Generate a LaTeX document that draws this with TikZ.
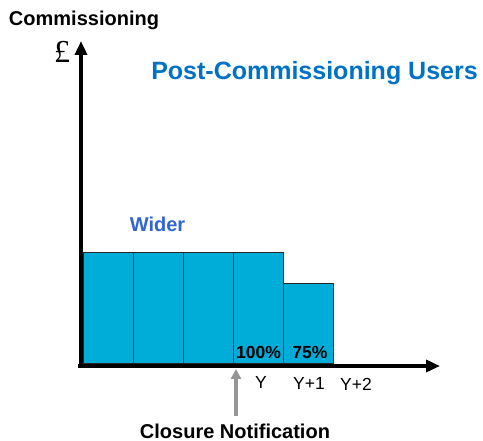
\documentclass[tikz,border=0pt]{standalone}
\usepackage{fontspec}
\setmainfont{Liberation Sans}
\newfontfamily\serifpound{Liberation Serif}
\usetikzlibrary{arrows.meta}
\definecolor{barcyan}{RGB}{0,172,216}
\definecolor{titleblue}{RGB}{0,114,198}
\definecolor{widerblue}{RGB}{50,100,210}
\definecolor{notegray}{RGB}{150,150,150}
\begin{document}
\begin{tikzpicture}[x=1pt,y=-1pt,
  barbox/.style={draw=black!85,line width=0.8pt,fill=barcyan},
  axisline/.style={line width=3.5pt,-{Triangle[length=14pt,width=12pt]}},
  ticklbl/.style={font=\fontsize{17.5}{17.5}\selectfont,anchor=center},
  pctlbl/.style={font=\bfseries\fontsize{17.5}{17.5}\selectfont,anchor=center}]
\useasboundingbox (0,0) rectangle (483,441);
% bars
\node[barbox,minimum width=50pt,minimum height=111pt,inner sep=0pt,anchor=south west] (b1) at (83,364) {};
\node[barbox,minimum width=50pt,minimum height=111pt,inner sep=0pt,anchor=south west] (b2) at (133,364) {};
\node[barbox,minimum width=50pt,minimum height=111pt,inner sep=0pt,anchor=south west] (b3) at (183,364) {};
\node[barbox,minimum width=50pt,minimum height=111pt,inner sep=0pt,anchor=south west] (b4) at (233,364) {};
\node[barbox,minimum width=50pt,minimum height=80pt,inner sep=0pt,anchor=south west] (b5) at (283,364) {};
% axes
\coordinate (ytip) at (81,41);
\coordinate (xtip) at (440,366);
\draw[axisline] (78,366) -- (xtip);
\draw[axisline] (81,368) -- (ytip);
% labels
\node[font=\bfseries\fontsize{20}{20}\selectfont,anchor=center] (comm) at (84,20) {Commissioning};
\node[font=\serifpound\fontsize{32}{32}\selectfont,anchor=center] (pound) at (62,52) {£};
\node[font=\bfseries\fontsize{25}{25}\selectfont,text=titleblue,anchor=center] (title) at (314.5,73) {Post-Commissioning Users};
\node[font=\bfseries\fontsize{20}{20}\selectfont,text=widerblue,anchor=center] (wider) at (157.5,224) {Wider};
\node[pctlbl] (p100) at (258.5,352) {100\%};
\node[pctlbl] (p75) at (310,352) {75\%};
\node[ticklbl] (ty) at (261,382) {Y};
\node[ticklbl] (ty1) at (309,383) {Y+1};
\node[ticklbl] (ty2) at (356,384) {Y+2};
\node[font=\bfseries\fontsize{20}{20}\selectfont,anchor=center] (closure) at (235,431) {Closure Notification};
\draw[notegray,line width=4pt,-{Triangle[length=10pt,width=10pt]}] (236,416) -- (236,369);
\end{tikzpicture}
\end{document}
